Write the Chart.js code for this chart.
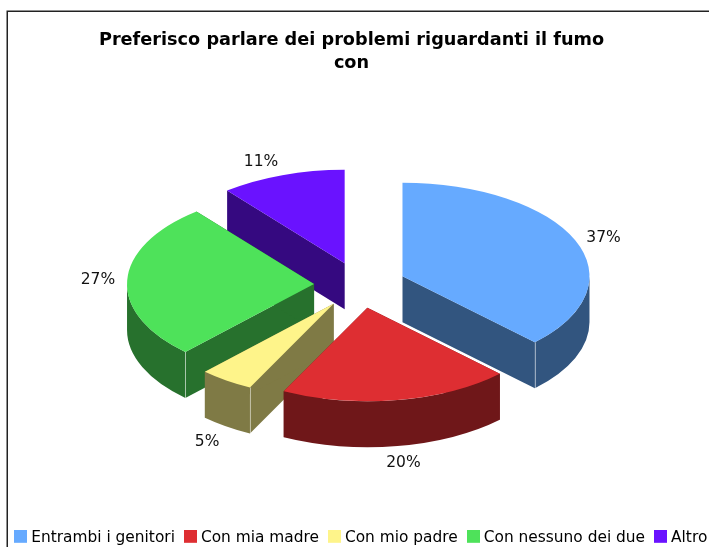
<!DOCTYPE html>
<html><head><meta charset="utf-8">
<script src="https://cdn.jsdelivr.net/npm/chart.js@4"></script>
<style>html,body{margin:0;padding:0;background:#fff;width:709px;height:547px;overflow:hidden}
canvas{position:absolute;left:-17px;top:0}</style></head>
<body><canvas id="c" width="737" height="556"></canvas>
<script>
const categories = ['Entrambi i genitori','Con mia madre','Con mio padre','Con nessuno dei due','Altro'];
const percentages = [37.48,19.9,4.7,27.1,10.82];
const topColors = ['#66aaff','#de2e32','#fef48a','#4ee25a','#6a12ff'];
const wallColors = ['#32557f','#6f1719','#7f7a45','#27712d','#350980'];
const titleLines = ['Preferisco parlare dei problemi riguardanti il fumo','con'];
const drawOrder = [4,0,3,2,1];
const FONT = '"DejaVu Sans", sans-serif';
const OX = 17, CX = 360 + OX, CY = 285, SQUASH = 0.5, DEPTH = 46, EXPLODE = 46, RADIUS = 187, LABEL_R = 245, LABEL_DROP = 49;

const pie3d = {
  id: 'pie3d',
  beforeDraw(chart) {
    const c = chart.ctx; c.save();
    c.strokeStyle = '#222'; c.lineWidth = 1.5;
    c.beginPath(); c.moveTo(7.25 + OX, 556); c.lineTo(7.25 + OX, 11.25); c.lineTo(737, 11.25); c.stroke();
    c.restore();
  },
  beforeDatasetsDraw(chart) {
    const c = chart.ctx, meta = chart.getDatasetMeta(0);
    const total = meta.data;
    drawOrder.forEach(i => {
      const a = total[i], s = a.startAngle, e = a.endAngle, r = a.outerRadius, m = (s + e) / 2;
      const X = CX + Math.cos(m) * EXPLODE, Y = CY + Math.sin(m) * EXPLODE * SQUASH;
      const px = t => X + Math.cos(t) * r, py = t => Y + Math.sin(t) * r * SQUASH;
      c.save();
      c.fillStyle = wallColors[i];
      [s, e].forEach(t => {
        c.beginPath(); c.moveTo(X, Y); c.lineTo(px(t), py(t));
        c.lineTo(px(t), py(t) + DEPTH); c.lineTo(X, Y + DEPTH); c.closePath(); c.fill();
      });
      const w1 = Math.max(s, 0), w2 = Math.min(e, Math.PI);
      if (w2 > w1) {
        c.beginPath();
        c.ellipse(X, Y, r, r * SQUASH, 0, w1, w2);
        c.ellipse(X, Y + DEPTH, r, r * SQUASH, 0, w2, w1, true);
        c.closePath(); c.fill();
      }
      c.strokeStyle = 'rgba(255,255,255,0.5)'; c.lineWidth = 1;
      const corners = [];
      if (Math.sin(e) > 0 && Math.cos(e) > 0) corners.push(e);
      if (Math.sin(s) > 0 && Math.cos(s) < 0) corners.push(s);
      corners.forEach(t => {
        const x = Math.round(px(t)) + 0.5;
        c.beginPath(); c.moveTo(x, py(t)); c.lineTo(x, py(t) + DEPTH); c.stroke();
      });
      c.restore();
      c.save();
      c.translate(X, Y); c.scale(1, SQUASH); c.translate(-a.x, -a.y);
      a.draw(c);
      c.restore();
    });
    c.save();
    c.font = '15.5px ' + FONT; c.fillStyle = '#111';
    total.forEach((a, i) => {
      const m = (a.startAngle + a.endAngle) / 2, sx = Math.cos(m), sy = Math.sin(m);
      const x = CX + sx * LABEL_R + (Math.abs(sx) < 0.25 ? 4 : 0), y = CY + sy * LABEL_R * SQUASH + (sy > 0 ? LABEL_DROP : 0);
      c.textAlign = Math.abs(sx) < 0.25 ? 'center' : (sx > 0 ? 'left' : 'right');
      c.textBaseline = sy > 0.7 ? 'top' : (sy < -0.7 ? 'bottom' : 'middle');
      c.fillText(Math.round(percentages[i]) + '%', x, y);
    });
    c.restore();
    return false;
  }
};

function swatch(color) {
  const k = document.createElement('canvas'); k.width = 13; k.height = 17;
  const g = k.getContext('2d'); g.fillStyle = color; g.fillRect(0, 0, 13, 13);
  return k;
}

new Chart(document.getElementById('c'), {
  type: 'pie',
  data: { labels: categories, datasets: [{ data: percentages, backgroundColor: topColors, borderWidth: 0, radius: RADIUS }] },
  plugins: [pie3d],
  options: {
    responsive: false, animation: false,
    layout: { padding: { top: 29, bottom: 0 } },
    plugins: {
      tooltip: { enabled: false },
      title: { display: true, text: titleLines, color: '#000', padding: { top: 0, bottom: 0 },
        font: { family: FONT, size: 17.7, weight: 'bold', lineHeight: 1.3 } },
      legend: { display: true, position: 'bottom', align: 'end',
        labels: { font: { family: FONT, size: 15.4 }, color: '#111', boxWidth: 5.6, boxHeight: 13, padding: 12.7, usePointStyle: true,
          generateLabels(chart) {
            return categories.map((t, i) => ({ text: t, fillStyle: topColors[i], strokeStyle: topColors[i], lineWidth: 0, pointStyle: swatch(topColors[i]), hidden: false, index: i }));
          } } }
    }
  }
});
</script></body></html>
